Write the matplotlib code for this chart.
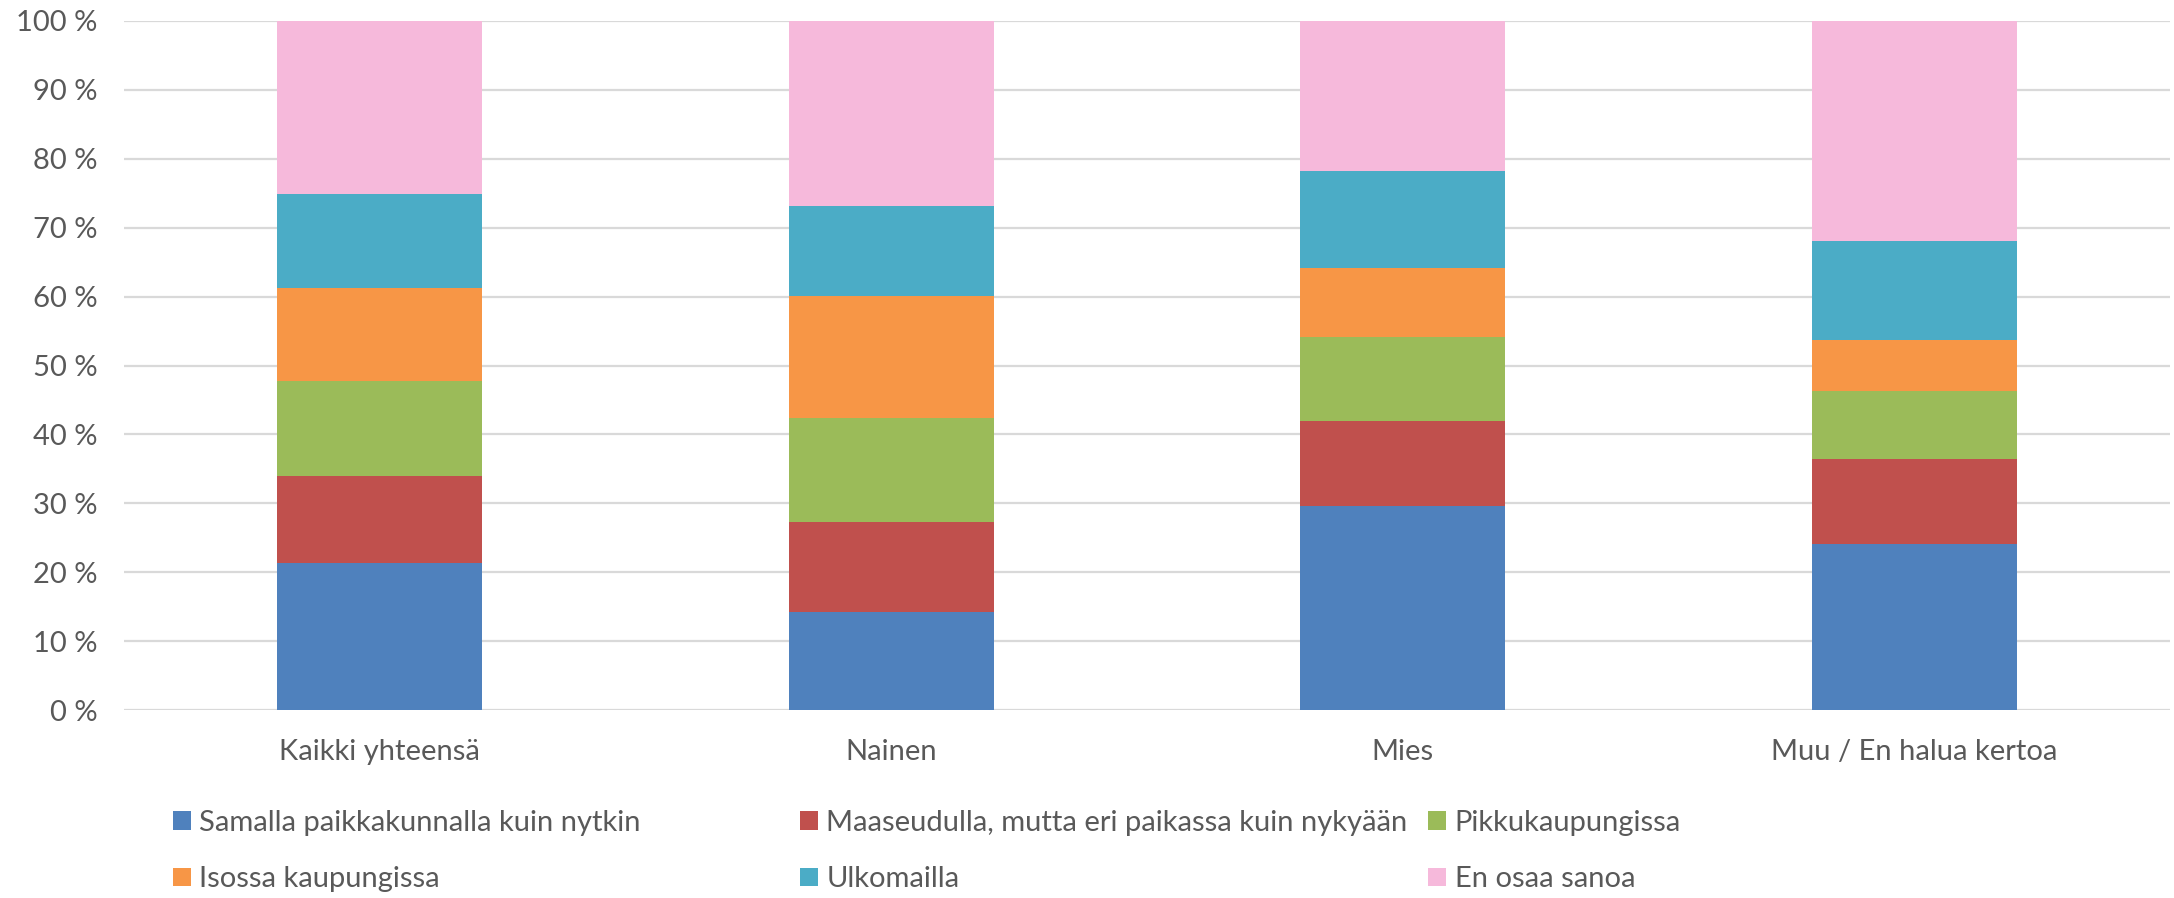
import numpy as np
import matplotlib
matplotlib.use("Agg")
import matplotlib.pyplot as plt
from matplotlib.ticker import FuncFormatter

# %%
# Data (shares in %)
# --------------------------------------

groups = ["Kaikki yhteensä", "Nainen", "Mies", "Muu / En halua kertoa"]
series = [
    "Samalla paikkakunnalla kuin nytkin",
    "Maaseudulla, mutta eri paikassa kuin nykyään",
    "Pikkukaupungissa",
    "Isossa kaupungissa",
    "Ulkomailla",
    "En osaa sanoa",
]
samalla = [21.4, 14.2, 29.6, 24.1]
maaseudulla = [12.6, 13.1, 12.3, 12.4]
pikku = [13.7, 15.1, 12.2, 9.8]
isossa = [13.6, 17.7, 10.1, 7.4]
ulkomailla = [13.6, 13.0, 14.0, 14.4]
en_osaa = [25.1, 27.0, 21.8, 31.9]

colors = ["#4F81BD", "#C0504D", "#9BBB59", "#F79646", "#4BACC6", "#F6B9DB"]
text_col = "#595959"

plt.rcParams["font.family"] = ["Lato", "DejaVu Sans"]
fs = 21
plt.rcParams["font.size"] = fs

fig = plt.figure(figsize=(21.74, 8.98), dpi=100)
ax = fig.add_axes([0.057, 0.2091, 0.9412, 0.7677])

x = np.arange(len(groups))
bottom = np.zeros(len(groups))
handles = []
for vals, name, col in zip([samalla, maaseudulla, pikku, isossa, ulkomailla, en_osaa],
                           series, colors):
    vals = np.array(vals)
    h = ax.bar(x, vals, 0.4, bottom=bottom, color=col, label=name, zorder=3)
    handles.append(h)
    bottom += vals

ax.set_xlim(-0.5, 3.5)
ax.set_ylim(0, 100)
ax.set_yticks(np.arange(0, 101, 10))
ax.yaxis.set_major_formatter(FuncFormatter(lambda v, p: f"{v:.0f} %"))
ax.set_xticks(x)
ax.set_xticklabels(groups)
ax.tick_params(axis="y", length=0, pad=19, colors=text_col, labelsize=fs)
ax.tick_params(axis="x", length=0, pad=21, colors=text_col, labelsize=fs)
ax.grid(axis="y", color="#D9D9D9", lw=1.6, zorder=0)
for s in ax.spines.values():
    s.set_visible(False)

# Excel lays out the legend in fixed-width columns, row by row
cols_x = [0.0796, 0.368, 0.657]
for ci, cx in enumerate(cols_x):
    hs = [handles[ci], handles[ci + 3]]
    fig.legend(hs, [series[ci], series[ci + 3]], loc="center left",
               bbox_to_anchor=(cx, 0.0525), frameon=False, fontsize=fs,
               borderpad=0, borderaxespad=0, handlelength=0.6, handleheight=0.6,
               handletextpad=0.3, labelspacing=1.05, labelcolor=text_col)

fig.savefig("out.png", dpi=100)
